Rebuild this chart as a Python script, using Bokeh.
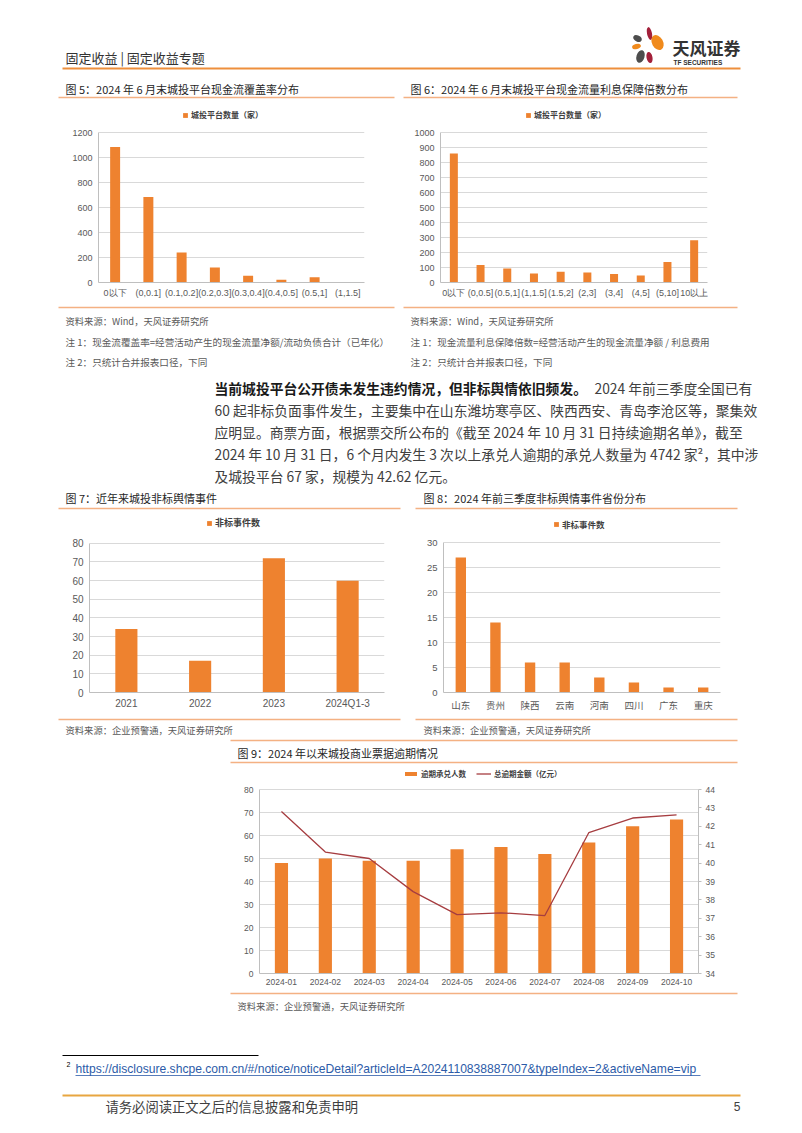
from bokeh.plotting import figure
from bokeh.models import (Range1d, FactorRange, Legend, LegendItem, LinearAxis,
                          FixedTicker, Spacer)
from bokeh.layouts import column, row
from bokeh.core.properties import value
from bokeh.embed import file_html
from bokeh.resources import INLINE

# ---------------- data ----------------
cover_cats = ["0以下", "(0,0.1]", "(0.1,0.2]", "(0.2,0.3]", "(0.3,0.4]", "(0.4,0.5]", "(0.5,1]", "(1,1.5]"]
cover_vals = [1085, 685, 240, 120, 55, 22, 42, 1]

interest_cats = ["0以下", "(0,0.5]", "(0.5,1]", "(1,1.5]", "(1.5,2]", "(2,3]", "(3,4]", "(4,5]", "(5,10]", "10以上"]
interest_vals = [860, 116, 93, 60, 71, 67, 56, 47, 136, 282]

year_cats = ["2021", "2022", "2023", "2024Q1-3"]
year_events = [34, 17, 72, 60]

prov_cats = ["山东", "贵州", "陕西", "云南", "河南", "四川", "广东", "重庆"]
prov_events = [27, 14, 6, 6, 3, 2, 1, 1]

months = ["2024-01", "2024-02", "2024-03", "2024-04", "2024-05",
          "2024-06", "2024-07", "2024-08", "2024-09", "2024-10"]
overdue_count = [48, 50, 49, 49, 54, 55, 52, 57, 64, 67]
overdue_amount = [42.8, 40.6, 40.25, 38.45, 37.2, 37.3, 37.15, 41.65, 42.45, 42.62]

# ---------------- style ----------------
CJK = "Noto Sans CJK SC"
NUM = "Liberation Sans"
BAR = "#EE822F"
LINE_RED = "#A63D40"
RULE = "#F4B183"
HEAD = "#EE8F3C"
TITLE_C = "#262626"
NOTE_C = "#595959"
BODY_C = "#404040"
GRID = "#D9D9D9"
AXIS = "#BFBFBF"
TICK_C = "#595959"
PAGE_W = 802
LEG_H = 10


def band(y0, y1):
    p = figure(width=PAGE_W, height=y1 - y0, x_range=Range1d(0, PAGE_W), y_range=Range1d(y1, y0),
               x_axis_type=None, y_axis_type=None, toolbar_location=None,
               output_backend="svg", min_border=0)
    p.outline_line_color = None
    return p


def txt(p, x, y, s, size, color=TITLE_C, font=CJK, bold=False, align="left"):
    p.text(x=[x], y=[y], text=[s], text_font=value(font), text_font_size=size,
           text_color=color, text_baseline="middle", text_align=align,
           text_font_style="bold" if bold else "normal")


def hline(p, x0, x1, y, color=RULE, width=1.5):
    p.segment(x0=[x0], y0=[y], x1=[x1], y1=[y], line_color=color, line_width=width)


def style_axes(p, tick_size, cat_size, cat_font):
    p.outline_line_color = None
    p.xgrid.visible = False
    p.ygrid.grid_line_color = GRID
    p.ygrid.grid_line_width = 1
    for ax in p.yaxis:
        ax.axis_line_color = AXIS
        ax.major_tick_line_color = None
        ax.minor_tick_line_color = None
        ax.major_tick_out = 0
        ax.major_tick_in = 0
        ax.minor_tick_out = 0
        ax.major_label_text_font = NUM
        ax.major_label_text_font_size = tick_size
        ax.major_label_text_color = TICK_C
        ax.major_label_standoff = 6
    for ax in p.xaxis:
        ax.axis_line_color = AXIS
        ax.major_tick_line_color = None
        ax.minor_tick_line_color = None
        ax.major_tick_out = 0
        ax.major_tick_in = 0
        ax.minor_tick_out = 0
        ax.major_label_text_font = cat_font
        ax.major_label_text_font_size = cat_size
        ax.major_label_text_color = TICK_C
        ax.major_label_standoff = 5


def make_legend(items, frame_left, frame_bottom, leg_x, leg_yc, size, gw, gh, spacing=0):
    # tuple location: pixels from the frame's bottom-left to the legend's bottom-left
    return Legend(items=items,
                  location=(leg_x - frame_left, frame_bottom - (leg_yc + LEG_H / 2)),
                  orientation="horizontal", border_line_color=None,
                  background_fill_alpha=0, padding=0, margin=0, spacing=spacing,
                  glyph_width=gw, glyph_height=gh, label_height=LEG_H, label_standoff=3,
                  label_text_font=CJK, label_text_font_size=size,
                  label_text_font_style="bold", label_text_color=BODY_C)


def bar_chart(cats, vals, fig_box, frame_box, ymax, step, label, leg_x, leg_yc,
              tick_size, cat_size, cat_font, leg_size):
    fx0, fx1, fy0, fy1 = fig_box
    rx0, rx1, ry0, ry1 = frame_box
    top = fy0 + 1  # frame extends above the value area so the legend stays inside it
    ext = ymax * (ry1 - top) / (ry1 - ry0)
    p = figure(width=fx1 - fx0, height=fy1 - fy0, x_range=FactorRange(factors=cats),
               y_range=Range1d(0, ext), toolbar_location=None, output_backend="svg",
               min_border_left=rx0 - fx0, min_border_right=fx1 - rx1,
               min_border_top=top - fy0, min_border_bottom=fy1 - ry1)
    r = p.vbar(x=cats, top=vals, width=0.3, fill_color=BAR, line_color=None)
    style_axes(p, tick_size, cat_size, cat_font)
    p.yaxis.ticker = FixedTicker(ticks=list(range(0, ymax + 1, step)))
    p.yaxis.bounds = (0, ymax)
    leg = make_legend([LegendItem(label=label, renderers=[r])], rx0, ry1, leg_x, leg_yc,
                      leg_size, 6, 6)
    p.add_layout(leg, "center")
    return p


# ---------------- band A: header + titles (y 0-103) ----------------
A = band(0, 103)
txt(A, 65, 57, "固定收益 | 固定收益专题", "13px", color="#333333")
hline(A, 62, 740, 68, color=HEAD, width=2)
# logo
A.ellipse(x=[649, 637, 657, 636, 640, 649], y=[33, 38, 42, 46, 56, 57],
          width=[5, 9, 11, 9, 8, 6], height=[13, 6, 16, 5, 13, 11],
          angle=[0.2, -0.5, 0.5, 0.3, -0.3, 0.2],
          fill_color=["#A3203A", "#4D4D4D", "#F08A1C", "#F08A1C", "#4D4D4D", "#A3203A"],
          line_color=None)
txt(A, 672, 47, "天风证券", "17px", color="#333333", bold=True)
txt(A, 673, 62, "TF SECURITIES", "6.5px", color="#333333", font=NUM, bold=True)
txt(A, 65, 88, "图 5：2024 年 6 月末城投平台现金流覆盖率分布", "11px")
txt(A, 410, 88, "图 6：2024 年 6 月末城投平台现金流量利息保障倍数分布", "11px")
hline(A, 58, 394, 97)
hline(A, 403, 737, 97)

# ---------------- band B: charts 5 & 6 (y 103-302) ----------------
c5 = bar_chart(cover_cats, cover_vals, (0, 402, 103, 302), (98, 364, 132, 282),
               1200, 200, "城投平台数量（家）", 182, 115, "9px", "9px", NUM, "8px")
c6 = bar_chart(interest_cats, interest_vals, (402, 802, 103, 302), (440, 707, 132, 282),
               1000, 100, "城投平台数量（家）", 525, 115, "9px", "9px", NUM, "8px")

# ---------------- band C: notes + paragraph + titles (y 302-512) ----------------
C = band(302, 512)
hline(C, 58, 394, 307)
hline(C, 403, 737, 307)
txt(C, 65, 320, "资料来源：Wind，天风证券研究所", "9.3px", color=NOTE_C)
txt(C, 65, 341, "注 1：现金流覆盖率=经营活动产生的现金流量净额/流动负债合计（已年化）", "9.6px", color=NOTE_C)
txt(C, 65, 361, "注 2：只统计合并报表口径，下同", "9.6px", color=NOTE_C)
txt(C, 410, 320, "资料来源：Wind，天风证券研究所", "9.3px", color=NOTE_C)
txt(C, 410, 341, "注 1：现金流量利息保障倍数=经营活动产生的现金流量净额 / 利息费用", "9.6px", color=NOTE_C)
txt(C, 410, 361, "注 2：只统计合并报表口径，下同", "9.6px", color=NOTE_C)

py = [387, 409, 431, 453, 475]
PF = "13.8px"
txt(C, 214, py[0], "当前城投平台公开债未发生违约情况，但非标舆情依旧频发。", PF, color="#1a1a1a", bold=True)
txt(C, 594, py[0], "2024 年前三季度全国已有", PF, color=BODY_C)
txt(C, 214, py[1], "60 起非标负面事件发生，主要集中在山东潍坊寒亭区、陕西西安、青岛李沧区等，聚集效", PF, color=BODY_C)
txt(C, 214, py[2], "应明显。商票方面，根据票交所公布的《截至 2024 年 10 月 31 日持续逾期名单》，截至", PF, color=BODY_C)
txt(C, 214, py[3], "2024 年 10 月 31 日，6 个月内发生 3 次以上承兑人逾期的承兑人数量为 4742 家²，其中涉", PF, color=BODY_C)
txt(C, 214, py[4], "及城投平台 67 家，规模为 42.62 亿元。", PF, color=BODY_C)

txt(C, 65, 497, "图 7：近年来城投非标舆情事件", "11px")
txt(C, 423, 497, "图 8：2024 年前三季度非标舆情事件省份分布", "11px")
hline(C, 58, 400, 508)
hline(C, 415, 737, 508)

# ---------------- band D: charts 7 & 8 (y 512-715) ----------------
c7 = bar_chart(year_cats, year_events, (0, 402, 512, 715), (89, 384, 543, 693),
               80, 10, "非标事件数", 206, 525, "10px", "10px", NUM, "9px")
c8 = bar_chart(prov_cats, prov_events, (402, 802, 512, 715), (443, 720, 542, 692),
               30, 5, "非标事件数", 553, 525, "9.5px", "9.5px", CJK, "8.5px")

# ---------------- band E (y 715-766) ----------------
E = band(715, 766)
hline(E, 58, 400, 719)
hline(E, 415, 737, 719)
txt(E, 65, 729, "资料来源：企业预警通，天风证券研究所", "9.3px", color=NOTE_C)
txt(E, 423, 729, "资料来源：企业预警通，天风证券研究所", "9.3px", color=NOTE_C)
hline(E, 230, 737, 740)
txt(E, 237, 752, "图 9：2024 年以来城投商业票据逾期情况", "11px")
hline(E, 230, 737, 762)

# ---------------- band F: chart 9 (y 766-990) ----------------
fx0, fx1, fy0, fy1 = 230, 802, 766, 990
rx0, rx1, ry0, ry1 = 259, 698, 789, 973
top9 = fy0
scale9 = (ry1 - top9) / (ry1 - ry0)
c9 = figure(width=fx1 - fx0, height=fy1 - fy0, x_range=FactorRange(factors=months),
            y_range=Range1d(0, 80 * scale9), toolbar_location=None, output_backend="svg",
            min_border_left=rx0 - fx0, min_border_right=fx1 - rx1,
            min_border_top=top9 - fy0, min_border_bottom=fy1 - ry1)
c9.extra_y_ranges = {"amt": Range1d(34, 34 + 10 * scale9)}
rb = c9.vbar(x=months, top=overdue_count, width=0.3, fill_color=BAR, line_color=None)
rl = c9.line(x=months, y=overdue_amount, y_range_name="amt", line_color=LINE_RED, line_width=1.3)
style_axes(c9, "8.5px", "8.5px", NUM)
c9.yaxis.ticker = FixedTicker(ticks=list(range(0, 81, 10)))
c9.yaxis.bounds = (0, 80)
rax = LinearAxis(y_range_name="amt", ticker=FixedTicker(ticks=list(range(34, 45))),
                 bounds=(34, 44),
                 axis_line_color=AXIS, major_tick_line_color=AXIS, major_tick_out=3,
                 major_tick_in=0, minor_tick_line_color=None, minor_tick_out=0,
                 major_label_text_font=NUM, major_label_text_font_size="8.5px",
                 major_label_text_color=TICK_C, major_label_standoff=4)
c9.add_layout(rax, "right")
leg9 = make_legend([LegendItem(label="逾期承兑人数", renderers=[rb]),
                    LegendItem(label="总逾期金额（亿元）", renderers=[rl])],
                   rx0, ry1, 403, 774, "7.5px", 15, 5, spacing=10)
c9.add_layout(leg9, "center")

# ---------------- band G: footer (y 990-1130) ----------------
G = band(990, 1130)
hline(G, 230, 737, 993)
txt(G, 237, 1005, "资料来源：企业预警通，天风证券研究所", "9.3px", color=NOTE_C)
hline(G, 62, 258, 1055, color="#000000", width=1)
txt(G, 66, 1064, "2", "7px", color="#000000", font=NUM)
txt(G, 75, 1068, "https://disclosure.shcpe.com.cn/#/notice/noticeDetail?articleId=A2024110838887007&typeIndex=2&activeName=vip",
    "12.1px", color="#2C5BA8", font=NUM)
hline(G, 75, 700, 1075, color="#2C5BA8", width=0.8)
hline(G, 62, 740, 1095, color="#E8A640", width=2)
txt(G, 105, 1106, "请务必阅读正文之后的信息披露和免责申明", "13.3px", color=BODY_C)
txt(G, 740, 1106, "5", "12px", color=BODY_C, font=NUM, align="right")

page = column(
    A,
    row(c5, c6),
    C,
    row(c7, c8),
    E,
    row(Spacer(width=fx0, height=fy1 - fy0), c9),
    G,
)

open("out.html", "w").write(file_html(page, INLINE))
